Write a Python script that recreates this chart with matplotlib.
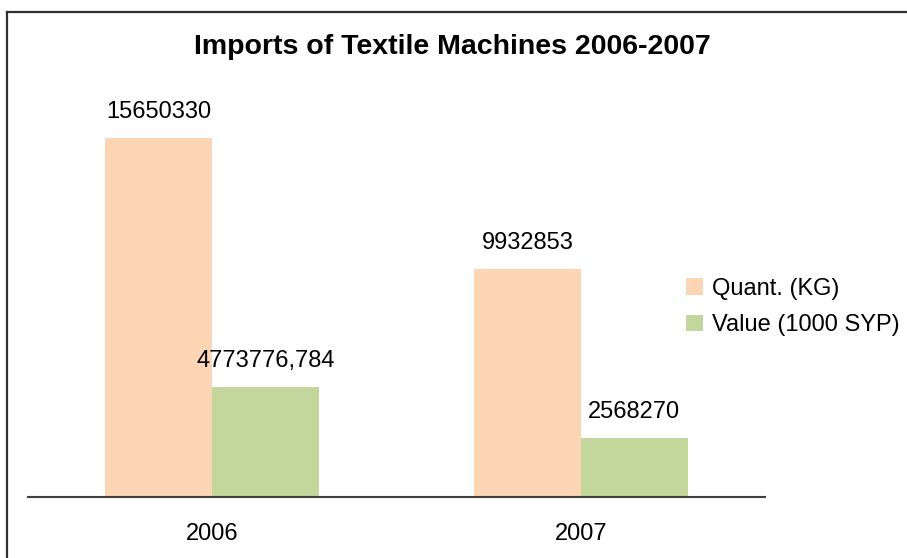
#!/usr/bin/env python3
import matplotlib
matplotlib.use('Agg')
import matplotlib.pyplot as plt
from matplotlib.lines import Line2D
import numpy as np

years = ['2006', '2007']
quant_kg = [15650330, 9932853]
value_syp = [4773776.784, 2568270]
quant_labels = ['15650330', '9932853']
value_labels = ['4773776,784', '2568270']
series_names = ['Quant. (KG)', 'Value (1000 SYP)']


def main():
    plt.rcParams['font.family'] = ['Liberation Sans', 'DejaVu Sans']
    fig = plt.figure(figsize=(9.07, 5.58), dpi=100)
    W, H = 907, 558

    # plot area in pixel terms (left, baseline, right, top)
    left, right, base, top = 28, 765, 497, 84
    ax = fig.add_axes([left / W, (H - base) / H, (right - left) / W, (base - top) / H])

    x = np.arange(len(years))
    w = 0.29
    b1 = ax.bar(x - w / 2, quant_kg, w, color='#FCD5B5', label=series_names[0])
    b2 = ax.bar(x + w / 2, value_syp, w, color='#C3D69B', label=series_names[1])

    for bars, labels in ((b1, quant_labels), (b2, value_labels)):
        for bar, lab in zip(bars, labels):
            ax.annotate(lab, (bar.get_x() + bar.get_width() / 2, bar.get_height()),
                        xytext=(0, 11), textcoords='offset points',
                        ha='center', va='bottom', fontsize=17)

    ax.set_xlim(-0.5, 1.5)
    ax.set_ylim(0, 18000000)
    ax.set_xticks(x)
    ax.set_xticklabels(years, fontsize=17)
    ax.tick_params(axis='x', length=0, pad=19)
    ax.set_yticks([])
    for s in ('left', 'right', 'top'):
        ax.spines[s].set_visible(False)
    ax.spines['bottom'].set_color('#404040')
    ax.spines['bottom'].set_linewidth(1.5)

    ax.legend(loc='center left', bbox_to_anchor=(686 / W, 1 - 307 / H),
              bbox_transform=fig.transFigure, frameon=False, fontsize=17,
              handlelength=0.7, handleheight=0.7, handletextpad=0.4,
              labelspacing=0.62, borderaxespad=0, borderpad=0)

    fig.text(452 / W, 1 - 47 / H, 'Imports of Textile Machines 2006-2007',
             ha='center', va='center', fontsize=20.5, fontweight='bold')

    # chart border (only left and top edges visible)
    ytop = 1 - 11.5 / H
    fig.add_artist(Line2D([7 / W, 7 / W], [0, ytop], color='#303030', lw=1.6))
    fig.add_artist(Line2D([7 / W, 1], [ytop, ytop], color='#303030', lw=1.6))

    fig.savefig('out.png', dpi=100)


if __name__ == '__main__':
    main()
